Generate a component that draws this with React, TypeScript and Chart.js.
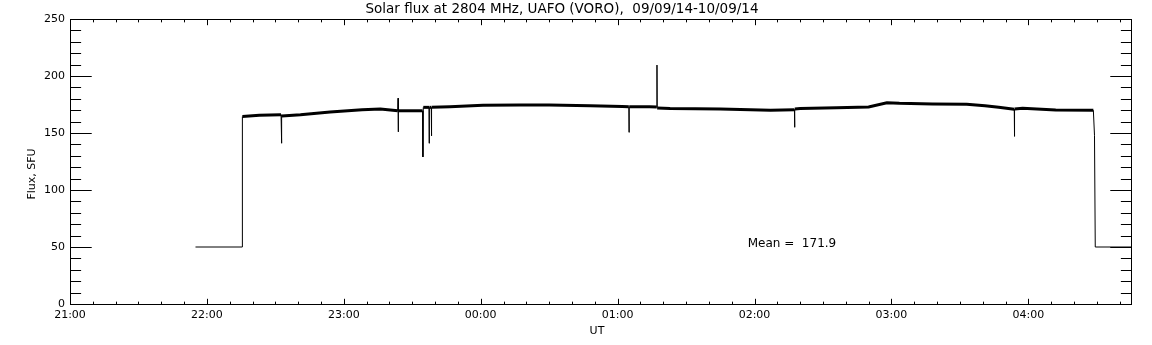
import { useEffect, useRef } from "react";
import { Chart, registerables } from "chart.js";

Chart.register(...registerables);

const TITLE = "Solar flux at 2804 MHz, UAFO (VORO),  09/09/14-10/09/14";
const Y_TITLE = "Flux, SFU";
const X_TITLE = "UT";
const MEAN_LABEL = "Mean =  171.9";
const MEAN_POS = { time: "01:57:00", flux: 52.6 };

const X_MIN = "21:00:00";
const X_MAX = "04:45:00";
const Y_MIN = 0;
const Y_MAX = 250;
const Y_STEP = 50;

const TIMES = [
  "21:55:00", "22:15:30", "22:15:33", "22:23:00", "22:32:30", "22:32:40", "22:32:50",
  "22:41:00", "22:54:00", "23:08:00", "23:16:00", "23:23:40", "23:23:48", "23:23:52",
  "23:23:56", "23:34:30", "23:34:40", "23:34:50", "23:37:20", "23:37:25", "23:37:30",
  "23:38:20", "23:38:25", "23:38:30", "23:46:30", "00:01:00", "00:17:00", "00:30:00",
  "00:48:00", "01:02:00", "01:04:55", "01:05:00", "01:05:05", "01:14:00", "01:17:10",
  "01:17:15", "01:17:20", "01:23:00", "01:45:00", "02:07:00", "02:17:30", "02:17:35",
  "02:17:40", "02:20:00", "02:36:00", "02:50:00", "02:58:00", "03:03:30", "03:18:00",
  "03:33:00", "03:41:00", "03:47:00", "03:53:50", "03:53:55", "03:54:00", "03:57:30",
  "04:12:00", "04:28:30", "04:29:00", "04:29:20", "04:45:00",
];

const FLUX = [
  50, 50, 164.5, 165.5, 166, 141, 165,
  166, 168.5, 170.5, 171, 169.5, 180.5, 151,
  169.5, 169.5, 129, 172.5, 172.5, 141, 172.5,
  172.5, 147.5, 172.5, 173, 174.3, 174.5, 174.6,
  174, 173.2, 173, 150.6, 173, 173, 172.8,
  209.6, 172, 171.5, 171, 170, 170.3, 155,
  171, 171.5, 172.2, 172.8, 176.5, 176, 175.4,
  175.2, 174, 172.5, 170.8, 147, 171, 171.6,
  170.2, 170, 148, 50, 50,
];

// hours since 00:00 of first day; times after midnight get +24
function toHours(t: string): number {
  const [h, m, s] = t.split(":").map(Number);
  let v = h + m / 60 + (s || 0) / 3600;
  if (h < 12) v += 24;
  return v;
}

function fmtHour(v: number): string {
  const h = ((Math.round(v) % 24) + 24) % 24;
  return (h < 10 ? "0" : "") + h + ":00";
}

const FONT = "DejaVu Sans";

export default function App() {
  const ref = useRef<HTMLCanvasElement | null>(null);

  useEffect(() => {
    const canvas = ref.current;
    if (!canvas) return;
    const points = TIMES.map((t, i) => ({ x: toHours(t), y: FLUX[i] }));

    const framePlugin = {
      id: "frame",
      afterDraw(chart: any) {
        const ctx = chart.ctx as CanvasRenderingContext2D;
        const ca = chart.chartArea;
        const xs = chart.scales.x;
        const ys = chart.scales.y;
        ctx.save();
        ctx.strokeStyle = "#000";
        ctx.lineWidth = 1;
        const L = Math.round(ca.left) + 0.5;
        const R = Math.round(ca.right) + 0.5;
        const T = Math.round(ca.top) + 0.5;
        const B = Math.round(ca.bottom) + 0.5;
        ctx.strokeRect(L, T, R - L, B - T);
        ctx.beginPath();
        // x ticks every 10 minutes, major every hour
        const xmin = toHours(X_MIN);
        const xmax = toHours(X_MAX);
        const plotH = B - T;
        const plotW = R - L;
        for (let i = 0; xmin + i / 6 <= xmax + 1e-9; i++) {
          const px = Math.round(xs.getPixelForValue(xmin + i / 6)) + 0.5;
          const len = i % 6 === 0 ? plotH * 0.02 : plotH * 0.01;
          ctx.moveTo(px, B);
          ctx.lineTo(px, B - len);
          ctx.moveTo(px, T);
          ctx.lineTo(px, T + len);
        }
        for (let v = Y_MIN; v <= Y_MAX; v += 10) {
          const py = Math.round(ys.getPixelForValue(v)) + 0.5;
          const len = v % Y_STEP === 0 ? plotW * 0.02 : plotW * 0.01;
          ctx.moveTo(L, py);
          ctx.lineTo(L + len, py);
          ctx.moveTo(R, py);
          ctx.lineTo(R - len, py);
        }
        ctx.stroke();

        ctx.fillStyle = "#000";
        // title
        ctx.font = `13.5px "${FONT}"`;
        ctx.textAlign = "center";
        ctx.textBaseline = "alphabetic";
        ctx.fillText(TITLE, 562, 12.5);
        // x title
        ctx.font = `11px "${FONT}"`;
        ctx.textBaseline = "middle";
        ctx.fillText(X_TITLE, 597, 331);
        // mean label
        ctx.font = `12px "${FONT}"`;
        ctx.textAlign = "left";
        ctx.fillText(
          MEAN_LABEL,
          xs.getPixelForValue(toHours(MEAN_POS.time)),
          ys.getPixelForValue(MEAN_POS.flux)
        );
        // y title
        ctx.font = `11px "${FONT}"`;
        ctx.save();
        ctx.translate(32, 174);
        ctx.rotate(-Math.PI / 2);
        ctx.textAlign = "center";
        ctx.fillText(Y_TITLE, 0, 0);
        ctx.restore();
        ctx.restore();
      },
    };

    const chart = new Chart(canvas, {
      type: "line",
      data: {
        datasets: [
          {
            data: points,
            borderColor: "#000",
            borderWidth: 1,
            pointRadius: 0,
            tension: 0,
            fill: false,
            segment: {
              borderWidth: (c: any) => {
                const y0 = c.p0.parsed.y;
                const y1 = c.p1.parsed.y;
                return Math.abs(y1 - y0) < 5 && Math.min(y0, y1) > 100 ? 3 : 1;
              },
            },
          },
        ],
      },
      options: {
        animation: false,
        responsive: false,
        events: [],
        layout: { padding: { left: 0, right: 21, top: 19, bottom: 0 } },
        plugins: {
          legend: { display: false },
          tooltip: { enabled: false },
          title: { display: false },
        },
        scales: {
          x: {
            type: "linear",
            min: toHours(X_MIN),
            max: toHours(X_MAX),
            grid: { display: false, drawTicks: false },
            border: { display: false },
            ticks: {
              stepSize: 1,
              padding: 5,
              color: "#000",
              font: { family: FONT, size: 11 },
              maxRotation: 0,
              autoSkip: false,
              callback: (v: any) => fmtHour(Number(v)),
            },
            afterBuildTicks: (scale: any) => {
              scale.ticks = scale.ticks.filter(
                (t: any) => Math.abs(t.value - Math.round(t.value)) < 1e-6
              );
            },
            afterFit: (scale: any) => {
              scale.height = 41;
            },
          },
          y: {
            type: "linear",
            min: Y_MIN,
            max: Y_MAX,
            grid: { display: false, drawTicks: false },
            border: { display: false },
            ticks: {
              stepSize: Y_STEP,
              padding: 5,
              color: "#000",
              font: { family: FONT, size: 11 },
            },
            afterFit: (scale: any) => {
              scale.width = 70;
            },
          },
        },
      },
      plugins: [framePlugin],
    } as any);

    return () => chart.destroy();
  }, []);

  return (
    <div style={{ position: "absolute", left: 0, top: 0, width: 1152, height: 345, background: "#fff" }}>
      <canvas ref={ref} width={1152} height={345} style={{ display: "block" }} />
    </div>
  );
}
